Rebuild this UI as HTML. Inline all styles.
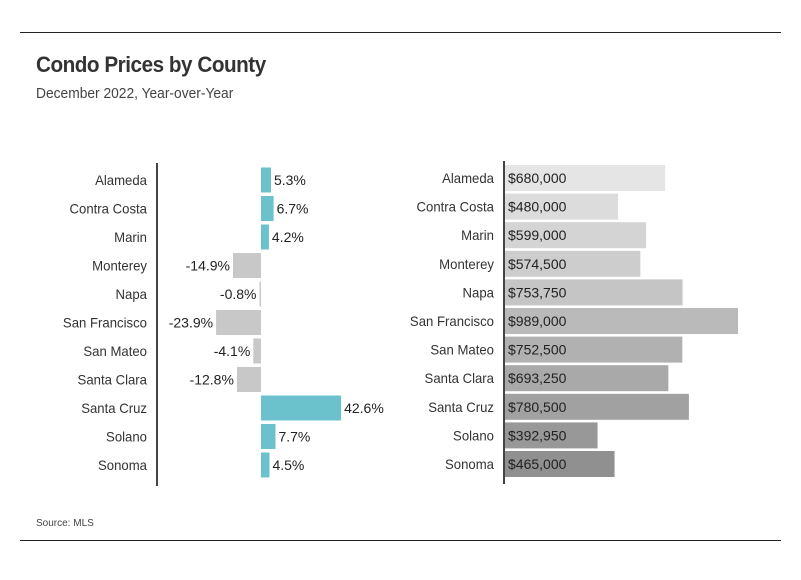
<!DOCTYPE html>
<html><head><meta charset="utf-8"><style>
html,body{margin:0;padding:0;background:#fff;}
svg text{font-family:"Liberation Sans Narrow","Liberation Sans",sans-serif;}
</style></head><body>
<svg id="chart" width="801" height="575" viewBox="0 0 801 575" xmlns="http://www.w3.org/2000/svg">
<line x1="20" y1="32.5" x2="781" y2="32.5" stroke="#222" stroke-width="1"/>
<g transform="translate(36,0) scale(0.94,1)">
<text x="0" y="72" font-size="22" font-weight="bold" fill="#333" style="font-family:'Liberation Sans',sans-serif;letter-spacing:-0.5px">Condo Prices by County</text>
</g>
<g transform="translate(36,0) scale(0.92,1)">
<text x="0" y="98" font-size="15" fill="#444">December 2022, Year-over-Year</text>
</g>
<line x1="157" y1="163" x2="157" y2="486" stroke="#444" stroke-width="2"/>
<line x1="504" y1="161" x2="504" y2="484" stroke="#444" stroke-width="2"/>
<g id="left"></g>
<g id="right"></g>
<text x="36" y="526" font-size="10" fill="#444">Source:  MLS</text>
<line x1="20" y1="540.5" x2="781" y2="540.5" stroke="#222" stroke-width="1"/>
</svg>
<script>
const counties = ["Alameda","Contra Costa","Marin","Monterey","Napa","San Francisco","San Mateo","Santa Clara","Santa Cruz","Solano","Sonoma"];
const yoyChange = [5.3,6.7,4.2,-14.9,-0.8,-23.9,-4.1,-12.8,42.6,7.7,4.5];
const medianPrice = [680000,480000,599000,574500,753750,989000,752500,693250,780500,392950,465000];
const priceShades = ["#e5e5e5","#dcdcdc","#d4d4d4","#cdcdcd","#c5c5c5","#bababa","#b1b1b1","#a9a9a9","#a1a1a1","#989898","#909090"];
const NS="http://www.w3.org/2000/svg";
function mk(tag,attrs,parent){const e=document.createElementNS(NS,tag);for(const k in attrs)e.setAttribute(k,attrs[k]);parent.appendChild(e);return e;}
const L=document.getElementById('left'), R=document.getElementById('right');
const xPct=v=>261+v*1.88;
const yL=i=>180+i*28.5;
const xPrice=v=>505+v*0.0002356;
const yR=i=>178+i*28.6;
const SC=0.94;
counties.forEach((c,i)=>{
  const y=yL(i), v=yoyChange[i];
  const g1=mk('g',{transform:'translate(147,0) scale('+SC+',1)'},L);
  const lab=mk('text',{x:0,y:y+5,'font-size':14,fill:'#333','text-anchor':'end'},g1);
  lab.textContent=c;
  
  
  const x0=Math.min(xPct(0),xPct(v)), w=Math.abs(xPct(v)-xPct(0));
  const b=mk('rect',{x:x0,y:y-12.5,width:Math.max(w,1),height:25,fill:v>=0?'#6bc1cc':'#c8c8c8'},L);
  
  
  const t=mk('text',{x:v>=0?xPct(v)+3:xPct(v)-3,y:y+5,'font-size':14,fill:'#222','text-anchor':v>=0?'start':'end'},L);
  t.textContent=v.toFixed(1)+'%';
  
  

  const yr=yR(i), p=medianPrice[i];
  const g2=mk('g',{transform:'translate(494,0) scale('+SC+',1)'},R);
  const lab2=mk('text',{x:0,y:yr+5,'font-size':14,fill:'#333','text-anchor':'end'},g2);
  lab2.textContent=c;
  
  
  const b2=mk('rect',{x:505,y:yr-13,width:xPrice(p)-505,height:26,fill:priceShades[i]},R);
  
  
  const t2=mk('text',{x:508,y:yr+5,'font-size':14,fill:'#222'},R);
  t2.textContent='$'+p.toLocaleString('en-US');
  
  
});
</script>
</body></html>
